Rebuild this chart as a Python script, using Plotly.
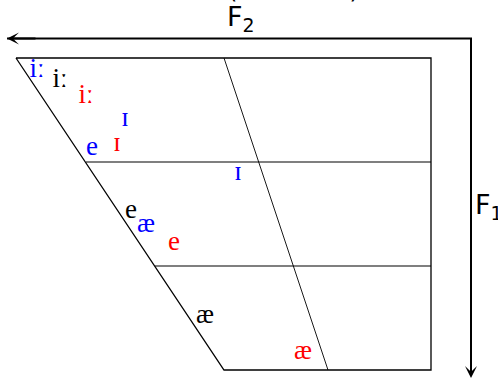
import plotly.graph_objects as go

# vowel chart, coordinates in chart units (0..498 wide, 0..379 tall, y down)
vowels = ["iː", "iː", "iː", "ɪ", "ɪ", "e", "ɪ", "e", "æ", "e", "æ", "æ"]
speaker = ["blue", "black", "red", "blue", "red", "blue", "blue", "black", "blue", "red", "black", "red"]
vowel_x = [37, 60, 86, 125, 117, 92, 238, 131, 146, 174, 205, 303]
vowel_y = [70, 80, 96, 119, 144, 148, 173, 211, 225, 243, 316, 352]

# trapezoid frame
frame_x = [16, 431, 431, 224, 16]
frame_y = [58, 58, 370, 370, 58]
rows_y = [162, 266]
rows_left = [86, 155]
mid_x = [224, 328]
mid_y = [58, 370]

# formant axes (L shaped arrow)
axis_x = [7, 471, 471]
axis_y = [38.5, 38.5, 378]

fig = go.Figure()

fig.add_trace(go.Scatter(x=frame_x, y=frame_y, mode="lines",
                         line=dict(color="black", width=1.3), hoverinfo="skip"))
for ry, rl in zip(rows_y, rows_left):
    fig.add_trace(go.Scatter(x=[rl, frame_x[1]], y=[ry, ry], mode="lines",
                             line=dict(color="black", width=1.2), hoverinfo="skip"))
fig.add_trace(go.Scatter(x=mid_x, y=mid_y, mode="lines",
                         line=dict(color="black", width=0.9), hoverinfo="skip"))

fig.add_trace(go.Scatter(x=axis_x[:2] + [axis_x[2]], y=axis_y[:2] + [axis_y[2] - 8], mode="lines",
                         line=dict(color="black", width=2), hoverinfo="skip"))

# arrow heads
fig.add_annotation(x=axis_x[0], y=axis_y[0], ax=axis_x[0] + 30, ay=axis_y[0],
                   xref="x", yref="y", axref="x", ayref="y", text="",
                   showarrow=True, arrowhead=3, arrowwidth=2, arrowsize=1,
                   arrowcolor="black", standoff=0)
fig.add_annotation(x=axis_x[2], y=axis_y[2], ax=axis_x[2], ay=axis_y[2] - 30,
                   xref="x", yref="y", axref="x", ayref="y", text="",
                   showarrow=True, arrowhead=3, arrowwidth=2, arrowsize=1,
                   arrowcolor="black", standoff=0)

fig.add_trace(go.Scatter(x=vowel_x, y=vowel_y, mode="text", text=vowels,
                         textposition="middle center",
                         textfont=dict(family="Liberation Serif, DejaVu Serif, serif",
                                       size=27, color=speaker),
                         hoverinfo="skip"))

label_font = dict(family="DejaVu Sans, sans-serif", size=27, color="black")
fig.add_annotation(x=241, y=18, text="F<sub>2</sub>", showarrow=False,
                   xref="x", yref="y", font=label_font)
fig.add_annotation(x=489, y=206, text="F<sub>1</sub>", showarrow=False,
                   xref="x", yref="y", font=label_font)
# title line above, only the bottom of it falls inside the picture
fig.add_annotation(x=293, y=1, xref="x", yref="paper", yanchor="middle", yshift=10,
                   text="(frontness)", showarrow=False,
                   font=dict(family="DejaVu Sans, sans-serif", size=24, color="black"))

fig.update_layout(
    width=498, height=379,
    margin=dict(l=0, r=0, t=0, b=0),
    paper_bgcolor="white", plot_bgcolor="white",
    showlegend=False,
    xaxis=dict(range=[0, 498], visible=False, fixedrange=True),
    yaxis=dict(range=[379, 0], visible=False, fixedrange=True),
)

fig.write_html("out.html", config={"displayModeBar": False},
               post_script="document.body.style.margin='0';")
